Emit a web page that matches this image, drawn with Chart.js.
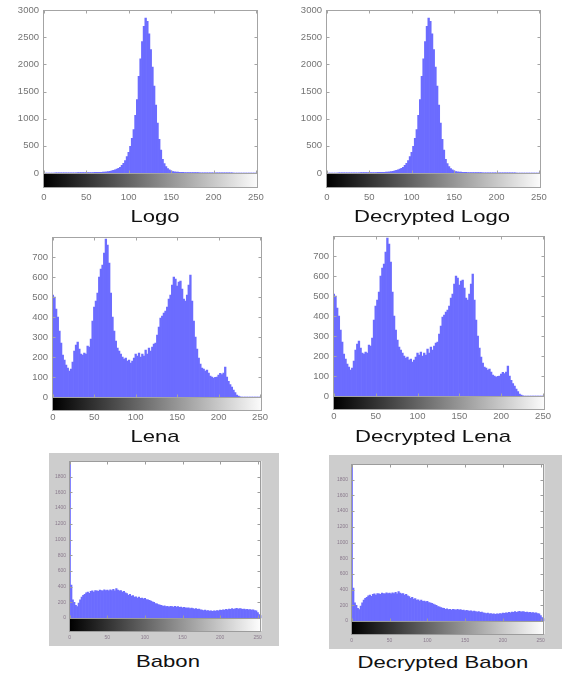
<!DOCTYPE html>
<html>
<head>
<meta charset="utf-8">
<script src="https://cdn.jsdelivr.net/npm/chart.js@4.4.0/dist/chart.umd.min.js"></script>
<style>
  body { margin: 0; background: #fff; width: 566px; height: 676px; position: relative; overflow: hidden;
         font-family: "Liberation Sans", Arial, sans-serif; }
  canvas { position: absolute; }
  .babon { background: #cdcdcd; }
  .title { position: absolute; font-size: 17px; line-height: 20px; color: #111; white-space: nowrap;
           transform: translateX(-50%) scaleX(1.3); }
</style>
</head>
<body>
<canvas id="logo" width="283" height="205" style="left:0;top:0"></canvas>
<canvas id="logoDec" width="283" height="205" style="left:283px;top:0"></canvas>
<canvas id="lena" width="283" height="205" style="left:0;top:225px"></canvas>
<canvas id="lenaDec" width="283" height="205" style="left:283px;top:225px"></canvas>
<canvas id="babon" class="babon" width="230" height="193" style="left:49px;top:453px"></canvas>
<canvas id="babonDec" class="babon" width="233" height="194" style="left:329px;top:455px"></canvas>

<div class="title" style="left:155px;top:207px">Logo</div>
<div class="title" style="left:432px;top:207px">Decrypted Logo</div>
<div class="title" style="left:155px;top:427px">Lena</div>
<div class="title" style="left:433px;top:427px">Decrypted Lena</div>
<div class="title" style="left:168px;top:652px">Babon</div>
<div class="title" style="left:443px;top:653px">Decrypted Babon</div>

<script>
// gray level of each bar (two levels per bar)
const grayBins = [
  0, 2, 4, 6, 8, 10, 12, 14, 16, 18,
  20, 22, 24, 26, 28, 30, 32, 34, 36, 38,
  40, 42, 44, 46, 48, 50, 52, 54, 56, 58,
  60, 62, 64, 66, 68, 70, 72, 74, 76, 78,
  80, 82, 84, 86, 88, 90, 92, 94, 96, 98,
  100, 102, 104, 106, 108, 110, 112, 114, 116, 118,
  120, 122, 124, 126, 128, 130, 132, 134, 136, 138,
  140, 142, 144, 146, 148, 150, 152, 154, 156, 158,
  160, 162, 164, 166, 168, 170, 172, 174, 176, 178,
  180, 182, 184, 186, 188, 190, 192, 194, 196, 198,
  200, 202, 204, 206, 208, 210, 212, 214, 216, 218,
  220, 222, 224, 226, 228, 230, 232, 234, 236, 238,
  240, 242, 244, 246, 248, 250, 252, 254
];

// pixel counts (original and decrypted look the same)
const logoCounts = [
  0, 0, 0, 0, 0, 0, 0, 1, 1, 1,
  2, 2, 2, 3, 3, 3, 4, 4, 5, 5,
  6, 6, 7, 7, 8, 8, 9, 9, 10, 10,
  11, 12, 12, 13, 14, 16, 18, 20, 24, 30,
  38, 48, 58, 70, 85, 105, 140, 180, 230, 300,
  380, 490, 640, 800, 1060, 1350, 1780, 2100, 2420, 2700,
  2850, 2790, 2560, 2270, 1950, 1600, 1250, 920, 620, 420,
  250, 175, 120, 80, 58, 40, 28, 22, 18, 15,
  13, 12, 11, 10, 9, 9, 8, 8, 7, 7,
  6, 6, 5, 5, 4, 4, 4, 3, 3, 3,
  2, 2, 2, 2, 1, 1, 1, 1, 1, 1,
  1, 1, 0, 0, 0, 0, 0, 0, 0, 0,
  0, 0, 0, 0, 0, 0, 0, 0
];

const lenaCounts = [
  510, 500, 440, 400, 330, 270, 210, 185, 160, 145,
  130, 140, 175, 230, 260, 275, 240, 215, 210, 220,
  215, 255, 250, 290, 380, 450, 480, 520, 600, 640,
  660, 720, 790, 760, 670, 520, 400, 330, 280, 245,
  230, 215, 200, 190, 195, 180, 185, 170, 180, 195,
  215, 205, 220, 200, 215, 205, 235, 215, 245, 230,
  250, 265, 270, 310, 350, 395, 405, 420, 430, 450,
  490, 510, 560, 600, 590, 555, 575, 580, 540, 490,
  480, 510, 560, 610, 480, 380, 300, 240, 195, 165,
  145, 140, 130, 135, 120, 105, 100, 95, 98, 100,
  110, 118, 112, 120, 150, 100, 78, 62, 50, 35,
  22, 10, 4, 1, 0, 0, 0, 0, 0, 0,
  0, 0, 0, 0, 0, 0, 0, 0
];

const babonCounts = [
  1990, 420, 230, 200, 160, 145, 190, 230, 265, 290,
  300, 320, 330, 315, 340, 345, 330, 350, 345, 340,
  355, 350, 345, 360, 350, 355, 345, 360, 350, 365,
  345, 375, 355, 345, 350, 330, 340, 320, 310, 290,
  300, 280, 285, 265, 270, 255, 265, 250, 255, 245,
  250, 235, 230, 225, 215, 205, 200, 185, 180, 170,
  165, 160, 150, 155, 145, 150, 140, 150, 145, 140,
  150, 140, 145, 135, 140, 130, 135, 130, 125, 130,
  120, 125, 120, 115, 120, 110, 115, 105, 100, 95,
  100, 90, 95, 88, 92, 85, 90, 88, 95, 92,
  100, 98, 105, 100, 110, 105, 115, 110, 120, 112,
  118, 122, 115, 120, 118, 110, 115, 108, 112, 105,
  108, 100, 105, 95, 90, 70, 45, 30
];

// tick labels
const xTickValues = [0, 50, 100, 150, 200, 250];
const logoYTicks = [0, 500, 1000, 1500, 2000, 2500, 3000];
const lenaYTicks = [0, 100, 200, 300, 400, 500, 600, 700];
const babonYTicks = [0, 200, 400, 600, 800, 1000, 1200, 1400, 1600, 1800];

Chart.defaults.font.family = '"Liberation Sans", Arial, sans-serif';

const barBlue = '#6c6cff';

// colour strip under the axis, the box and the inward tick marks
const imhistDecor = {
  id: 'imhistDecor',
  beforeDatasetsDraw(chart, args, opts) {
    if (!opts.plotBg) return;
    const a = chart.chartArea;
    chart.ctx.fillStyle = opts.plotBg;
    chart.ctx.fillRect(a.left, a.top, a.width, a.height + opts.stripH);
  },
  afterDraw(chart, args, opts) {
    const { ctx, chartArea: a, scales: { x, y } } = chart;
    const h = opts.stripH;
    const grad = ctx.createLinearGradient(x.getPixelForValue(0), 0, x.getPixelForValue(255), 0);
    grad.addColorStop(0, '#000');
    grad.addColorStop(1, '#fff');
    ctx.save();
    ctx.fillStyle = grad;
    ctx.fillRect(a.left, a.bottom + 1, a.width, h - 1);
    ctx.strokeStyle = opts.lineColor;
    ctx.lineWidth = 1;
    const L = Math.round(a.left) + 0.5, R = Math.round(a.right) - 0.5;
    const T = Math.round(a.top) + 0.5, B = Math.round(a.bottom) + 0.5;
    ctx.strokeRect(L, T, R - L, Math.round(a.height + h));
    ctx.beginPath();
    ctx.moveTo(L, B); ctx.lineTo(R, B);
    x.ticks.forEach(t => {
      const px = Math.round(x.getPixelForValue(t.value)) + 0.5;
      ctx.moveTo(px, T); ctx.lineTo(px, T + 3);
      ctx.moveTo(px, B); ctx.lineTo(px, B - 3);
    });
    y.ticks.forEach(t => {
      const py = Math.round(y.getPixelForValue(t.value)) + 0.5;
      ctx.moveTo(L, py); ctx.lineTo(L + 3, py);
      ctx.moveTo(R, py); ctx.lineTo(R - 3, py);
    });
    ctx.stroke();
    ctx.restore();
  }
};

function makeHist(id, counts, yTicks, cfg) {
  return new Chart(document.getElementById(id), {
    type: 'bar',
    data: {
      datasets: [{
        data: grayBins.map((g, i) => ({ x: g, y: counts[i] })),
        backgroundColor: barBlue,
        borderWidth: 0,
        barPercentage: 1,
        categoryPercentage: 1
      }]
    },
    options: {
      responsive: false,
      animation: false,
      events: [],
      layout: { padding: { top: cfg.padTop, right: cfg.padRight, left: 0, bottom: 0 } },
      plugins: {
        legend: { display: false },
        tooltip: { enabled: false },
        imhistDecor: { stripH: cfg.stripH, lineColor: cfg.lineColor, plotBg: cfg.plotBg }
      },
      scales: {
        x: {
          type: 'linear', min: -1, max: cfg.xMax, offset: false,
          grid: { display: false, drawTicks: false },
          border: { display: false },
          afterBuildTicks: s => { s.ticks = xTickValues.map(v => ({ value: v })); },
          afterFit: s => { s.height = cfg.xHeight; },
          ticks: { padding: cfg.xPad, maxRotation: 0, autoSkip: false,
                   color: cfg.tickColor, font: { size: cfg.tickSize },
                   callback: v => String(v) }
        },
        y: {
          min: 0, max: cfg.yMax,
          grid: { display: false, drawTicks: false },
          border: { display: false },
          afterBuildTicks: s => { s.ticks = yTicks.map(v => ({ value: v })); },
          afterFit: s => { s.width = cfg.yWidth; },
          ticks: { padding: cfg.yPad, color: cfg.tickColor, font: { size: cfg.tickSize },
                   callback: v => String(v) }
        }
      }
    },
    plugins: [imhistDecor]
  });
}

const plain = { tickColor: '#747474', tickSize: 9.5, lineColor: '#a4a4a4', yPad: 4, plotBg: null };
const small = { tickColor: '#8a7a8c', tickSize: 5, lineColor: '#9c9c9c', yPad: 3, plotBg: '#ffffff' };

makeHist('logo', logoCounts, logoYTicks,
  { ...plain, padTop: 10, padRight: 14, yWidth: 43, xHeight: 32, xPad: 19, stripH: 14, xMax: 252, yMax: 3000 });
makeHist('logoDec', logoCounts, logoYTicks,
  { ...plain, padTop: 10, padRight: 14, yWidth: 43, xHeight: 32, xPad: 19, stripH: 14, xMax: 252, yMax: 3000 });
makeHist('lena', lenaCounts, lenaYTicks,
  { ...plain, padTop: 12, padRight: 5, yWidth: 52, xHeight: 33, xPad: 15, stripH: 13, xMax: 252, yMax: 800 });
makeHist('lenaDec', lenaCounts, lenaYTicks,
  { ...plain, padTop: 11, padRight: 5, yWidth: 50, xHeight: 34, xPad: 15, stripH: 13, xMax: 252, yMax: 800 });
makeHist('babon', babonCounts, babonYTicks,
  { ...small, padTop: 8, padRight: 5, yWidth: 20, xHeight: 28, xPad: 17, stripH: 13, xMax: 255, yMax: 2000 });
makeHist('babonDec', babonCounts, babonYTicks,
  { ...small, padTop: 9, padRight: 8, yWidth: 22, xHeight: 28, xPad: 17, stripH: 13, xMax: 255, yMax: 2000 });
</script>
</body>
</html>
